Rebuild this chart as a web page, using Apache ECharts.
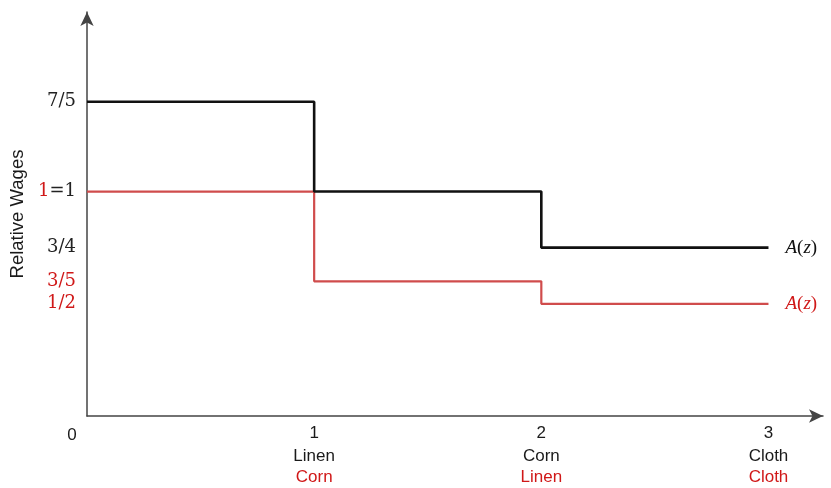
<!DOCTYPE html>
<html>
<head>
<meta charset="utf-8">
<script src="https://cdn.jsdelivr.net/npm/echarts@6/dist/echarts.min.js"></script>
<style>html,body{margin:0;padding:0;background:#fff}#c{width:831px;height:488px}</style>
</head>
<body>
<div id="c"></div>
<script>
// Data
var xTicks = [0, 1, 2, 3];
var goodsTop = ['', 'Linen', 'Corn', 'Cloth'];
var goodsBottom = ['', 'Corn', 'Linen', 'Cloth'];
var yTicks = [0.5, 0.6, 0.75, 1, 1.4];
var yTickLabels = {'0.5': '{r|1/2}', '0.6': '{r|3/5}', '0.75': '{k|3/4}', '1': '{r|1}{k|=1}', '1.4': '{k|7/5}'};
var blackX = [0, 1, 2, 3];
var blackY = [1.4, 1, 0.75, 0.75];
var redX = [0, 1, 2, 3];
var redY = [1, 0.6, 0.5, 0.5];
var seriesLabel = ['A', '(', 'z', ')'];

var RED = '#d04c4c';
var RED_TXT = '#d01818';
var chart = echarts.init(document.getElementById('c'));
function pts(xs, ys){ return xs.map(function(x,i){ return [x, ys[i]]; }); }
var serif = 'DejaVu Serif';
function endFmt(){ return '{i|' + seriesLabel[0] + '}{n|' + seriesLabel[1] + '}{i|' + seriesLabel[2] + '}{n|' + seriesLabel[3] + '}'; }
chart.setOption({
  animation: false,
  grid: {left: 87, right: 8, top: 12, bottom: 72, containLabel: false},
  xAxis: {
    type: 'value', min: 0, max: 3.24, interval: 1,
    splitLine: {show: false},
    axisTick: {show: false},
    axisLine: {lineStyle: {color: '#444', width: 1.5}, symbol: ['none', 'arrow'], symbolSize: [10, 14]},
    axisLabel: {
      margin: 6,
      customValues: xTicks,
      color: '#1a1a1a', fontFamily: 'Liberation Sans', fontSize: 17, lineHeight: 23,
      formatter: function(v){
        var i = xTicks.indexOf(v);
        if (v === 0) return '{z|0}';
        return v + '\n' + goodsTop[i] + '\n{rs|' + goodsBottom[i] + '}';
      },
      rich: {
        z: {fontFamily: 'Liberation Sans', fontSize: 17, color: '#1a1a1a', lineHeight: 23, padding: [4, 30, 0, 0]},
        rs: {fontFamily: 'Liberation Sans', fontSize: 17, color: RED_TXT, lineHeight: 19}
      }
    }
  },
  yAxis: {
    type: 'value', min: 0, max: 1.8,
    name: 'Relative Wages', nameLocation: 'middle', nameGap: 60,
    nameTextStyle: {fontFamily: 'Liberation Sans', fontSize: 18.5, color: '#1a1a1a'},
    splitLine: {show: false},
    axisTick: {show: false},
    axisLine: {lineStyle: {color: '#444', width: 1.5}, symbol: ['none', 'arrow'], symbolSize: [10, 14]},
    axisLabel: {
      margin: 11,
      customValues: yTicks,
      formatter: function(v){ return yTickLabels[String(v)] || ''; },
      rich: {
        k: {fontFamily: serif, fontSize: 18, color: '#222'},
        r: {fontFamily: serif, fontSize: 18, color: RED_TXT}
      }
    }
  },
  series: [
    {
      type: 'line', step: 'end', data: pts(redX, redY), symbol: 'none',
      lineStyle: {color: RED, width: 2.2}, z: 2,
      endLabel: {show: true, distance: 17, formatter: endFmt,
        rich: {i: {fontFamily: 'Liberation Serif', fontStyle: 'italic', fontSize: 19, color: RED_TXT},
               n: {fontFamily: 'Liberation Serif', fontSize: 19, color: RED_TXT}}}
    },
    {
      type: 'line', step: 'end', data: pts(blackX, blackY), symbol: 'none',
      lineStyle: {color: '#111', width: 2.6}, z: 3,
      endLabel: {show: true, distance: 17, formatter: endFmt,
        rich: {i: {fontFamily: 'Liberation Serif', fontStyle: 'italic', fontSize: 19, color: '#111'},
               n: {fontFamily: 'Liberation Serif', fontSize: 19, color: '#111'}}}
    }
  ]
});
</script>
</body>
</html>
